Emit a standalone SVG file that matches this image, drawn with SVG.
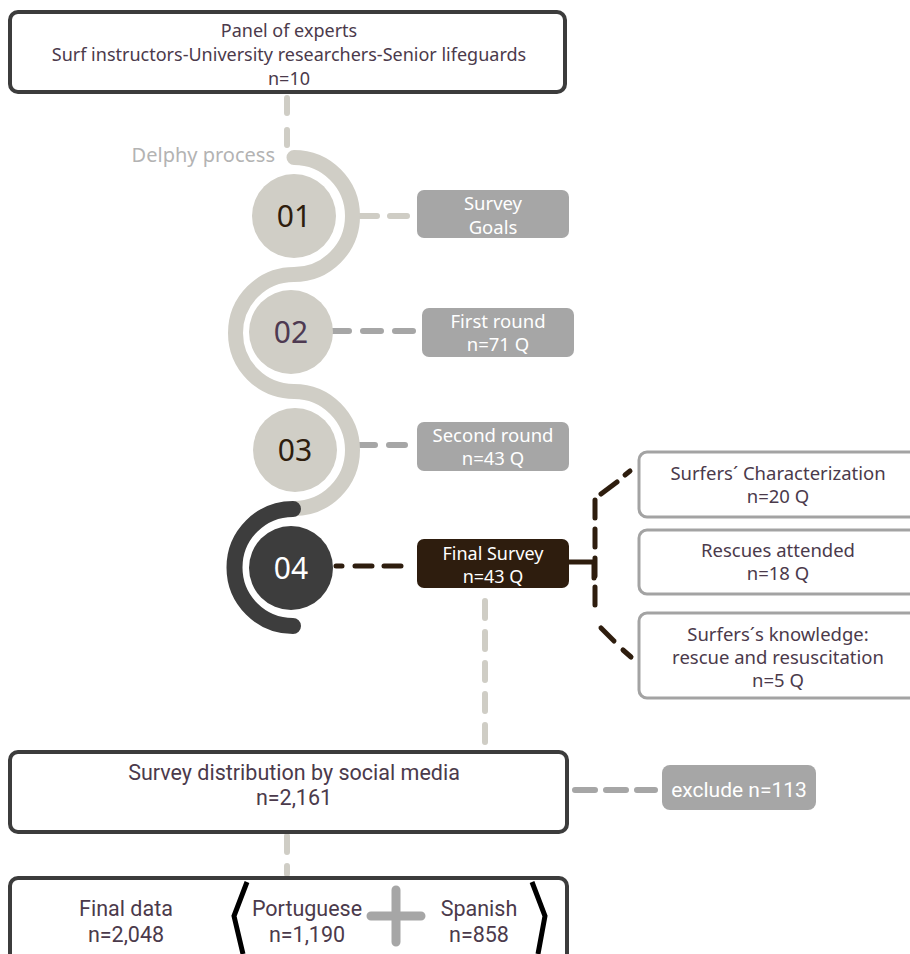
<svg xmlns="http://www.w3.org/2000/svg" width="910" height="954" viewBox="0 0 910 954">
<style>
.frame{fill:#fff;stroke:#3c3c3c;stroke-width:4}
.wbox{fill:#fff;stroke:#a3a3a3;stroke-width:3}
.gbox{fill:#a6a6a6}
.t{font-family:"Noto Sans","Liberation Sans",sans-serif;font-size:18px;fill:#4b3a4b;text-anchor:middle}
.tw{font-family:"Noto Sans","Liberation Sans",sans-serif;font-size:18.5px;fill:#fff;text-anchor:middle}
.tc{font-family:"Roboto","Liberation Sans",sans-serif;font-size:21.5px;fill:#4b3a4b;text-anchor:middle}
.num{font-family:"Noto Sans","Liberation Sans",sans-serif;font-size:30px;text-anchor:middle}
.lt{stroke:#cfcdc5;stroke-width:6;stroke-linecap:round;fill:none}
.gr{stroke:#a6a6a6;stroke-width:6;stroke-linecap:round;fill:none}
.dk{stroke:#2e1d0e;stroke-width:5;stroke-linecap:round;fill:none}
</style>
<rect width="910" height="954" fill="#fff"/>
<g id="connectors">
<path class="lt" d="M287 98 V147" stroke-dasharray="15 17"/>
<path class="lt" d="M360 216 H407" stroke-dasharray="17 13"/>
<path class="gr" d="M331 331 H414" stroke-dasharray="18 14"/>
<path class="gr" d="M359 445 H406" stroke-dasharray="16 14"/>
<path class="dk" d="M336 566 H401" stroke-dasharray="6 13 17 12 17 20"/>
<path class="dk" d="M569 562 H594 V578" stroke-linecap="butt"/>
<path class="dk" d="M595 500 V616" stroke-dasharray="18 11"/>
<path class="dk" d="M601 494 L617 482"/>
<path class="dk" d="M625 475 L630 471" stroke="#4a4a4a"/>
<path class="dk" d="M601 628 L614 641"/>
<path class="dk" d="M623 650 L631 657"/>
<path class="lt" d="M485 601 V746" stroke-dasharray="17 14"/>
<path class="gr" d="M575 790 H655" stroke-dasharray="20 11"/>
<path class="lt" d="M287 836 V874" stroke-dasharray="16 14"/>
</g>
<g id="panel">
<rect class="frame" x="10" y="12" width="555" height="80" rx="8"/>
<text class="t" x="289" y="37">Panel of experts</text>
<text class="t" x="289" y="61">Surf instructors-University researchers-Senior lifeguards</text>
<text class="t" x="289" y="85">n=10</text>
</g>
<g id="delphy">
<text x="275" y="162" style="font-family:'Noto Sans','Liberation Sans',sans-serif;font-size:20px;fill:#b3b3b3;text-anchor:end">Delphy process</text>
<path d="M294 157.5 A58.5 58.5 0 0 1 294 274.5 A58.5 58.5 0 0 0 294 391.5 A58.5 58.5 0 0 1 294 508.5" fill="none" stroke="#d0cec6" stroke-width="15" stroke-linecap="round"/>
<path d="M293 509 A58.5 58.5 0 0 0 293 626" fill="none" stroke="#3d3d3d" stroke-width="16" stroke-linecap="round"/>
</g>
<g id="step01">
<circle cx="294" cy="216" r="42" fill="#d0cec6"/>
<text class="num" x="294" y="227" fill="#2e1d0e">01</text>
</g>
<g id="step02">
<circle cx="291" cy="332" r="42" fill="#d0cec6"/>
<text class="num" x="291" y="343" fill="#4e3a52">02</text>
</g>
<g id="step03">
<circle cx="295" cy="450" r="42" fill="#d0cec6"/>
<text class="num" x="295" y="461" fill="#2e1d0e">03</text>
</g>
<g id="step04">
<circle cx="291" cy="568" r="42" fill="#3d3d3d"/>
<text class="num" x="291" y="579" fill="#fff">04</text>
</g>
<g id="goals">
<rect class="gbox" x="417" y="190" width="152" height="48" rx="7"/>
<text class="tw" x="493" y="210">Survey</text>
<text class="tw" x="493" y="233.5">Goals</text>
</g>
<g id="first">
<rect class="gbox" x="422" y="308" width="152" height="49" rx="7"/>
<text class="tw" x="498" y="327.5">First round</text>
<text class="tw" x="498" y="351">n=71 Q</text>
</g>
<g id="second">
<rect class="gbox" x="417" y="422" width="152" height="49" rx="7"/>
<text class="tw" x="493" y="441.5">Second round</text>
<text class="tw" x="493" y="465">n=43 Q</text>
</g>
<g id="final">
<rect x="417" y="539" width="152" height="49" rx="7" fill="#2e1d0e"/>
<text class="tw" x="493" y="560" style="font-size:18px">Final Survey</text>
<text class="tw" x="493" y="583" style="font-size:18px">n=43 Q</text>
</g>
<g id="characterization">
<rect class="wbox" x="639" y="452" width="285" height="65" rx="8"/>
<text class="t" x="778" y="480" style="font-size:18.5px">Surfers´ Characterization</text>
<text class="t" x="778" y="503" style="font-size:18.5px">n=20 Q</text>
</g>
<g id="rescues">
<rect class="wbox" x="639" y="530" width="285" height="64" rx="8"/>
<text class="t" x="778" y="557" style="font-size:18.5px">Rescues attended</text>
<text class="t" x="778" y="580" style="font-size:18.5px">n=18 Q</text>
</g>
<g id="knowledge">
<rect class="wbox" x="639" y="613" width="285" height="85" rx="8"/>
<text class="t" x="778" y="641" style="font-size:18.5px">Surfers´s knowledge:</text>
<text class="t" x="778" y="664" style="font-size:18.5px">rescue and resuscitation</text>
<text class="t" x="778" y="687" style="font-size:18.5px">n=5 Q</text>
</g>
<g id="distribution">
<rect class="frame" x="10" y="752" width="557" height="80" rx="8"/>
<text class="tc" x="294" y="780">Survey distribution by social media</text>
<text class="tc" x="294" y="805">n=2,161</text>
</g>
<g id="exclude">
<rect class="gbox" x="662" y="765" width="154" height="45" rx="8"/>
<text class="tc" x="739" y="797" style="fill:#fff;font-size:21px">exclude n=113</text>
</g>
<g id="finaldata">
<rect class="frame" x="10" y="878" width="557" height="90" rx="8"/>
<text class="tc" x="126" y="916">Final data</text>
<text class="tc" x="126" y="942">n=2,048</text>
<path d="M247 882 L234 916 L243 954" fill="none" stroke="#000" stroke-width="5"/>
<path d="M532 882 L545 916 L538 954" fill="none" stroke="#000" stroke-width="5"/>
<text class="tc" x="307" y="916">Portuguese</text>
<text class="tc" x="307" y="942">n=1,190</text>
<path d="M371 916 H421 M396 890 V942" stroke="#a6a6a6" stroke-width="9" stroke-linecap="round"/>
<text class="tc" x="479" y="916">Spanish</text>
<text class="tc" x="479" y="942">n=858</text>
</g>
</svg>
